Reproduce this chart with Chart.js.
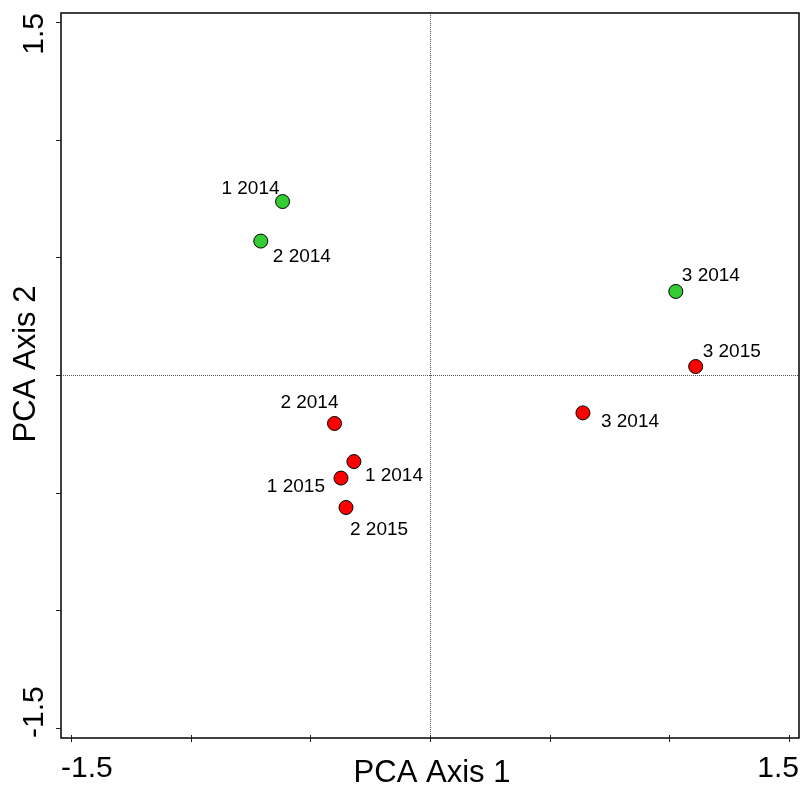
<!DOCTYPE html>
<html>
<head>
<meta charset="utf-8">
<script src="https://cdn.jsdelivr.net/npm/chart.js@4/dist/chart.umd.min.js"></script>
<style>
  html, body { margin: 0; padding: 0; background: #fff; overflow: hidden; }
  canvas { display: block; }
</style>
</head>
<body>
<canvas id="pcaChart" width="800" height="785"></canvas>
<script>
// PCA ordination, two groups of sites
const greenNames = ['1 2014', '2 2014', '3 2014'];
const greenX = [-0.616, -0.707, 1.027];
const greenY = [0.737, 0.569, 0.355];

const redNames = ['3 2015', '3 2014', '2 2014', '1 2014', '1 2015', '2 2015'];
const redX = [1.110, 0.639, -0.399, -0.318, -0.372, -0.351];
const redY = [0.036, -0.161, -0.206, -0.368, -0.438, -0.563];

const axisTicks = [-1.5, -1, -0.5, 0, 0.5, 1, 1.5];
const axisTickLabels = ['-1.5', '', '', '', '', '', '1.5'];
const xTitle = 'PCA Axis 1';
const yTitle = 'PCA Axis 2';

// label placement per point: [dx, dy (baseline), align]
const greenLabelPos = [[-3, -8, 'right'], [12, 21, 'left'], [6, -10, 'left']];
const redLabelPos = [[7, -10, 'left'], [18, 14, 'left'], [4, -15, 'right'],
                     [11, 19, 'left'], [-16, 14, 'right'], [4, 28, 'left']];

const FONT = '"Liberation Sans", Arial, sans-serif';

function toPoints(xs, ys) {
  return xs.map((x, i) => ({ x: x, y: ys[i] }));
}

const pcaFrame = {
  id: 'pcaFrame',
  beforeDatasetsDraw(chart) {
    const ctx = chart.ctx;
    const area = chart.chartArea;
    const x0 = chart.scales.x.getPixelForValue(0);
    const y0 = chart.scales.y.getPixelForValue(0);
    ctx.save();
    ctx.strokeStyle = '#555';
    ctx.lineWidth = 1;
    ctx.setLineDash([1, 1]);
    ctx.beginPath();
    ctx.moveTo(Math.round(x0) + 0.5, area.top);
    ctx.lineTo(Math.round(x0) + 0.5, area.bottom);
    ctx.moveTo(area.left, Math.round(y0) + 0.5);
    ctx.lineTo(area.right, Math.round(y0) + 0.5);
    ctx.stroke();
    ctx.restore();
  },
  afterDraw(chart) {
    const ctx = chart.ctx;
    const area = chart.chartArea;
    const xs = chart.scales.x;
    const ys = chart.scales.y;
    ctx.save();

    // frame
    ctx.strokeStyle = '#000';
    ctx.lineWidth = 1.5;
    ctx.strokeRect(area.left, area.top, area.right - area.left, area.bottom - area.top);

    // tick marks
    ctx.lineWidth = 1;
    ctx.strokeStyle = '#222';
    ctx.beginPath();
    axisTicks.forEach(v => {
      const px = Math.round(xs.getPixelForValue(v)) + 0.5;
      ctx.moveTo(px, area.bottom - 3);
      ctx.lineTo(px, area.bottom + 4);
      const py = Math.round(ys.getPixelForValue(v)) + 0.5;
      ctx.moveTo(area.left - 5, py);
      ctx.lineTo(area.left, py);
    });
    ctx.stroke();

    // tick labels (only the ends are labelled)
    ctx.fillStyle = '#000';
    ctx.font = '30px ' + FONT;
    ctx.textBaseline = 'alphabetic';
    const first = axisTickLabels[0];
    const last = axisTickLabels[axisTickLabels.length - 1];
    ctx.textAlign = 'left';
    ctx.fillText(first, area.left, area.bottom + 39);
    ctx.textAlign = 'right';
    ctx.fillText(last, area.right, area.bottom + 39);

    ctx.save();
    ctx.translate(43, area.bottom);
    ctx.rotate(-Math.PI / 2);
    ctx.textAlign = 'left';
    ctx.fillText(first, 0, 0);
    ctx.restore();
    ctx.save();
    ctx.translate(43, area.top);
    ctx.rotate(-Math.PI / 2);
    ctx.textAlign = 'right';
    ctx.fillText(last, 0, 0);
    ctx.restore();

    // axis titles
    ctx.textAlign = 'center';
    ctx.font = '31px ' + FONT;
    ctx.fillText(xTitle, xs.getPixelForValue(0) + 2, 782);
    ctx.save();
    ctx.translate(35, ys.getPixelForValue(0) - 11);
    ctx.rotate(-Math.PI / 2);
    ctx.fillText(yTitle, 0, 0);
    ctx.restore();

    // point labels
    ctx.font = '19px ' + FONT;
    const groups = [[0, greenNames, greenLabelPos], [1, redNames, redLabelPos]];
    groups.forEach(([di, names, pos]) => {
      const meta = chart.getDatasetMeta(di);
      meta.data.forEach((el, i) => {
        const p = pos[i];
        ctx.textAlign = p[2];
        ctx.fillText(names[i], el.x + p[0], el.y + p[1]);
      });
    });

    ctx.restore();
  }
};

new Chart(document.getElementById('pcaChart'), {
  type: 'scatter',
  data: {
    datasets: [
      {
        label: 'green',
        data: toPoints(greenX, greenY),
        backgroundColor: '#33cc33',
        borderColor: '#000',
        borderWidth: 1,
        pointRadius: 7
      },
      {
        label: 'red',
        data: toPoints(redX, redY),
        backgroundColor: '#ff0000',
        borderColor: '#000',
        borderWidth: 1,
        pointRadius: 7
      }
    ]
  },
  options: {
    responsive: false,
    animation: false,
    layout: { autoPadding: false, padding: { left: 61, top: 13, right: 1, bottom: 47 } },
    plugins: {
      legend: { display: false },
      tooltip: { enabled: false }
    },
    scales: {
      x: { type: 'linear', display: false, min: -1.5418, max: 1.5418 },
      y: { type: 'linear', display: false, min: -1.5425, max: 1.5382 }
    }
  },
  plugins: [pcaFrame]
});
</script>
</body>
</html>
